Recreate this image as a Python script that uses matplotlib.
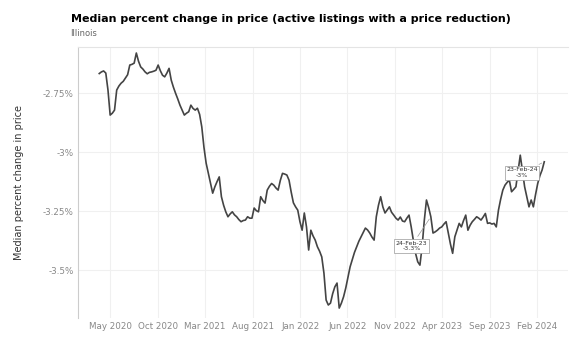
import numpy as np
import pandas as pd
import matplotlib
matplotlib.use("Agg")
import matplotlib.pyplot as plt
import matplotlib.dates as mdates

# weekly median % change in price, Illinois
last_week = "2024-02-23"
median_change = [
    -2.667, -2.660, -2.656, -2.665, -2.737, -2.843, -2.835, -2.822, -2.737, -2.720,
    -2.708, -2.700, -2.686, -2.672, -2.631, -2.628, -2.623, -2.580, -2.615, -2.639,
    -2.648, -2.660, -2.668, -2.662, -2.660, -2.657, -2.653, -2.631, -2.655, -2.674,
    -2.681, -2.665, -2.645, -2.695, -2.725, -2.751, -2.775, -2.801, -2.822, -2.843,
    -2.835, -2.829, -2.801, -2.815, -2.822, -2.814, -2.840, -2.893, -2.980, -3.047,
    -3.089, -3.130, -3.174, -3.147, -3.125, -3.105, -3.189, -3.225, -3.253, -3.274,
    -3.262, -3.253, -3.266, -3.274, -3.286, -3.295, -3.290, -3.288, -3.274, -3.280,
    -3.280, -3.237, -3.248, -3.253, -3.189, -3.205, -3.216, -3.161, -3.145, -3.133,
    -3.140, -3.152, -3.161, -3.120, -3.090, -3.093, -3.097, -3.119, -3.170, -3.215,
    -3.232, -3.246, -3.295, -3.331, -3.258, -3.317, -3.415, -3.331, -3.355, -3.373,
    -3.401, -3.420, -3.444, -3.513, -3.627, -3.648, -3.640, -3.600, -3.571, -3.555,
    -3.661, -3.640, -3.613, -3.576, -3.530, -3.486, -3.455, -3.425, -3.401, -3.378,
    -3.359, -3.340, -3.322, -3.330, -3.343, -3.360, -3.373, -3.274, -3.225, -3.189,
    -3.232, -3.258, -3.245, -3.232, -3.255, -3.267, -3.280, -3.288, -3.275, -3.292,
    -3.295, -3.280, -3.267, -3.317, -3.375, -3.429, -3.465, -3.479, -3.401, -3.290,
    -3.203, -3.235, -3.274, -3.343, -3.338, -3.331, -3.322, -3.317, -3.305, -3.295,
    -3.343, -3.390, -3.429, -3.359, -3.330, -3.302, -3.317, -3.290, -3.267, -3.331,
    -3.310, -3.295, -3.285, -3.274, -3.280, -3.288, -3.275, -3.260, -3.302, -3.300,
    -3.305, -3.302, -3.317, -3.246, -3.200, -3.161, -3.140, -3.128, -3.119, -3.168,
    -3.158, -3.147, -3.080, -3.013, -3.080, -3.147, -3.190, -3.232, -3.203, -3.232,
    -3.180, -3.133, -3.100, -3.076, -3.041,
]
yticks = [-2.75, -3.0, -3.25, -3.5]
ytick_labels = ["-2.75%", "-3%", "-3.25%", "-3.5%"]
xtick_dates = ["2020-05-01", "2020-10-01", "2021-03-01", "2021-08-01", "2022-01-01",
               "2022-06-01", "2022-11-01", "2023-04-01", "2023-09-01", "2024-02-01"]
callouts = [("2023-02-24", "24-Feb-23\n-3.3%"), ("2024-02-23", "23-Feb-24\n-3%")]

dates = pd.date_range(end=last_week, periods=len(median_change), freq="7D")
series = pd.Series(median_change, index=dates)

fig = plt.figure(figsize=(5.74, 3.39), dpi=100)
ax = fig.add_axes([0.136, 0.062, 0.854, 0.799])

ax.plot(series.index, series.values, color="#444444", linewidth=1.2)

ax.set_ylim(-3.703, -2.555)
ax.set_xlim(pd.Timestamp("2020-01-19"), pd.Timestamp("2024-05-10"))
ax.set_yticks(yticks)
ax.set_yticklabels(ytick_labels)
ax.set_xticks(pd.to_datetime(xtick_dates))
ax.xaxis.set_major_formatter(mdates.DateFormatter("%b %Y"))

ax.tick_params(axis="both", length=0, labelsize=6.3, colors="#888888")
ax.tick_params(axis="x", pad=3)
ax.tick_params(axis="y", pad=3)
ax.grid(True, color="#f0f0f0", linewidth=0.8)
for side in ["right", "bottom"]:
    ax.spines[side].set_visible(False)
ax.spines["left"].set_color("#cccccc")
ax.spines["top"].set_color("#e4e4e4")

ax.set_ylabel("Median percent change in price", fontsize=7, color="#333333", labelpad=14)

# callout boxes
offsets = [(-14, -21), (-16, -8)]
for (d, label), off in zip(callouts, offsets):
    ts = pd.Timestamp(d)
    ax.annotate(label, xy=(ts, series[ts]), xytext=off, textcoords="offset points",
                ha="center", va="center", fontsize=4.5, color="#333333",
                bbox=dict(boxstyle="square,pad=0.25", fc="white", ec="#999999", lw=0.5),
                arrowprops=dict(arrowstyle="-", color="#999999", lw=0.5))

fig.text(0.123, 0.935, "Median percent change in price (active listings with a price reduction)",
         fontsize=8, fontweight="bold", color="#000000")
fig.text(0.123, 0.895, "Illinois", fontsize=6, color="#666666")

fig.savefig("out.png", dpi=100, facecolor="white")
